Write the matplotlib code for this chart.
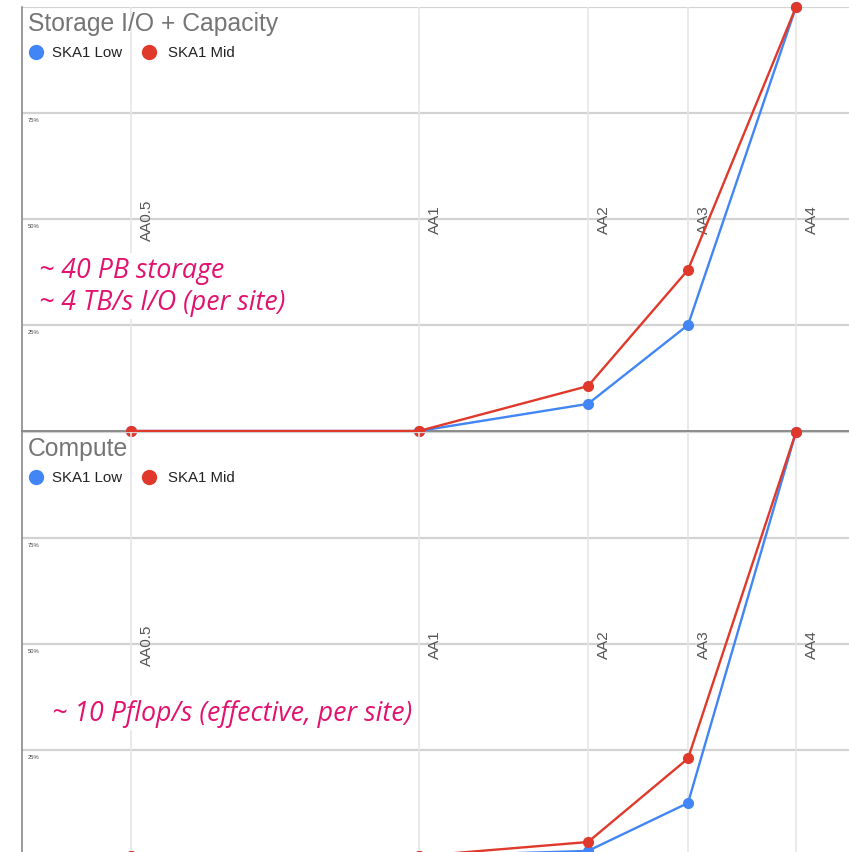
import matplotlib.pyplot as plt

# ---- data ----
stages = ["AA0.5", "AA1", "AA2", "AA3", "AA4"]
# position of each stage along the timeline (arbitrary units, as in the source chart)
stage_x = [109, 397, 566, 666, 774]

storage_low = [0, 0, 6.4, 25, 100]
storage_mid = [0, 0, 10.6, 38, 100]

compute_low = [0, 0, 1.2, 12.5, 100]
compute_mid = [0, 0, 3.3, 23, 100]

y_ticks = [25, 50, 75]
y_tick_labels = ["25%", "50%", "75%"]

BLUE = "#4285f4"
RED = "#e0392b"
PINK = "#e2136f"

W, H = 849, 853
fig = plt.figure(figsize=(W / 100, H / 100), dpi=100)


def make_panel(top_px, title, low, mid, note_lines, note_xy):
    # top_px = pixel row of the 100% line, 0% line sits 424 px below
    bottom_px = top_px + 424
    ax = fig.add_axes([22 / W, (H - bottom_px) / H, (W - 22) / W, 424 / H])
    ax.set_xlim(0, W - 22)
    ax.set_ylim(0, 100)
    ax.set_facecolor("none")

    # grid: horizontal lines at quarters, vertical lines at the stages
    for v in [25, 50, 75, 100]:
        ax.axhline(v, color="#d2d2d2", lw=1.6, zorder=0)
    for xv in stage_x:
        ax.axvline(xv, color="#e6e6e6", lw=1.2, zorder=0)

    ax.set_xticks([])
    ax.set_yticks([])
    for s in ["top", "right"]:
        ax.spines[s].set_visible(False)
    ax.spines["left"].set_color("#8a8a8a")
    ax.spines["left"].set_linewidth(1.2)
    ax.spines["bottom"].set_color("#8a8a8a")
    ax.spines["bottom"].set_linewidth(1.4)

    # tiny y labels under each gridline
    for v, lab in zip(y_ticks, y_tick_labels):
        ax.annotate(lab, (0, v), xytext=(4, -3), textcoords="offset points",
                    fontsize=4.2, color="#444444", ha="left", va="top",
                    family="Liberation Sans")

    # stage names, rotated, next to each vertical line
    for xv, name in zip(stage_x, stages):
        ax.annotate(name, (xv, 50), xytext=(11.5, 0), textcoords="offset points",
                    rotation=90, fontsize=11, color="#555555", ha="center", va="center",
                    family="Liberation Sans")

    ax.plot(stage_x, low, color=BLUE, lw=1.7, marker="o", ms=7, zorder=3, clip_on=False)
    ax.plot(stage_x, mid, color=RED, lw=1.7, marker="o", ms=7, zorder=4, clip_on=False)

    # title + legend drawn like the spreadsheet chart
    ax.text(6 / (W - 22), 1 - 16 / 424, title, transform=ax.transAxes, fontsize=17.8,
            color="#757575", ha="left", va="center", family="Liberation Sans")
    leg_y = 1 - 45 / 424
    ax.plot([14 / (W - 22)], [leg_y], "o", color=BLUE, ms=10, transform=ax.transAxes, clip_on=False)
    ax.text(30 / (W - 22), leg_y, "SKA1 Low", transform=ax.transAxes, fontsize=10.8,
            color="#222222", ha="left", va="center", family="Liberation Sans")
    ax.plot([127 / (W - 22)], [leg_y], "o", color=RED, ms=10, transform=ax.transAxes, clip_on=False)
    ax.text(146 / (W - 22), leg_y, "SKA1 Mid", transform=ax.transAxes, fontsize=10.8,
            color="#222222", ha="left", va="center", family="Liberation Sans")

    # pink annotation on a white box
    fig.text(note_xy[0] / W, 1 - note_xy[1] / H, "\n".join(note_lines), fontsize=19.3,
             style="italic", color=PINK, family="Open Sans", ha="left", va="center",
             linespacing=1.2,
             bbox=dict(facecolor="white", edgecolor="none", pad=2))
    return ax


make_panel(8, "Storage I/O + Capacity", storage_low, storage_mid,
           ["~ 40 PB storage", "~ 4 TB/s I/O (per site)"], (39, 287))
make_panel(433, "Compute", compute_low, compute_mid,
           ["~ 10 Pflop/s (effective, per site)"], (52, 714))

fig.savefig("out.png", dpi=100)
